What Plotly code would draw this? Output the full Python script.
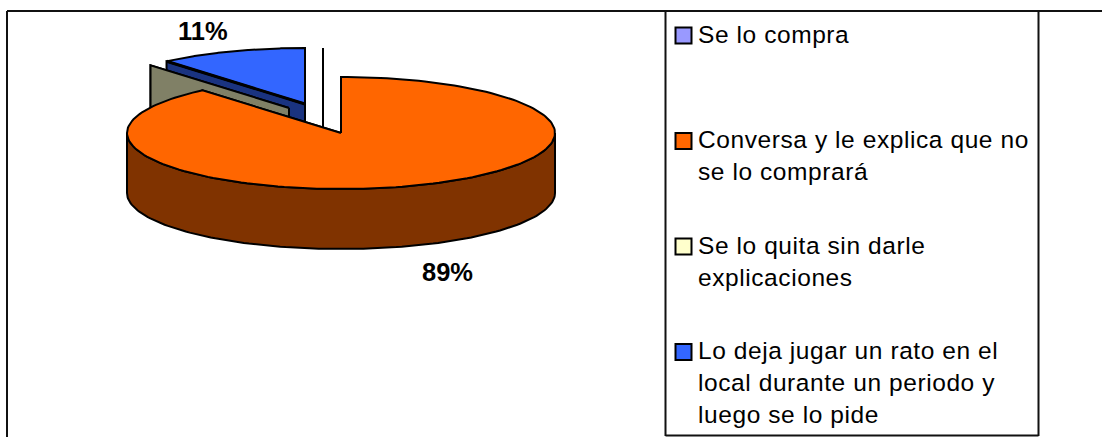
import math
import plotly.graph_objects as go

categories = ["Se lo compra", "Conversa y le explica que no se lo comprará",
              "Se lo quita sin darle explicaciones",
              "Lo deja jugar un rato en el local durante un periodo y luego se lo pide"]
values = [0, 88.8, 0, 11.2]
legend_lines = [["Se lo compra"], ["Conversa y le explica que no", "se lo comprará"],
                ["Se lo quita sin darle", "explicaciones"],
                ["Lo deja jugar un rato en el", "local durante un periodo y", "luego se lo pide"]]
top_colors = ["#9999FF", "#FF6600", "#FFFFCC", "#3366FF"]
side_colors = ["#4D4D80", "#803300", "#808066", "#1A3380"]
explode = [(-18, -29), (0, 0), (-52, -25), (-36, -29)]
draw_order = [3, 0, 2, 1]

CX, CY, RX, RY, DEPTH = 341, 133, 214, 56, 60
FONT = "Liberation Sans"
LW = 2

total = sum(values)
starts, ends, acc = [], [], 0
for v in values:
    starts.append(acc / total * 2 * math.pi)
    acc += v
    ends.append(acc / total * 2 * math.pi)


def rim(t, dx, dy, d=0):
    return CX + dx + RX * math.sin(t), CY + dy - RY * math.cos(t) + d


def poly(pts, color, width=LW):
    xs = [p[0] for p in pts] + [pts[0][0]]
    ys = [p[1] for p in pts] + [pts[0][1]]
    return go.Scatter(x=xs, y=ys, mode="lines", fill="toself", fillcolor=color,
                      line=dict(color="black", width=width), hoverinfo="skip", showlegend=False)


fig = go.Figure()
for i in draw_order:
    a, b = starts[i], ends[i]
    dx, dy = explode[i]
    apex = (CX + dx, CY + dy)
    # cut faces at both radial edges
    for t in (b, a):
        r = rim(t, dx, dy)
        fig.add_trace(poly([apex, r, (r[0], r[1] + DEPTH), (apex[0], apex[1] + DEPTH)], side_colors[i]))
    # outer wall (front half only)
    lo, hi = max(a, math.pi / 2), min(b, 3 * math.pi / 2)
    if hi > lo:
        n = 120
        ts = [lo + (hi - lo) * k / n for k in range(n + 1)]
        fig.add_trace(poly([rim(t, dx, dy) for t in ts] +
                           [rim(t, dx, dy, DEPTH) for t in reversed(ts)], side_colors[i]))
    # top face
    if b > a:
        n = 180
        ts = [a + (b - a) * k / n for k in range(n + 1)]
        fig.add_trace(poly([apex] + [rim(t, dx, dy) for t in ts], top_colors[i]))
    # heavier edge where the exploded wedge's top meets its cut face
    if i == 3:
        r = rim(a, dx, dy)
        fig.add_trace(go.Scatter(x=[apex[0], r[0]], y=[apex[1], r[1]], mode="lines",
                                 line=dict(color="black", width=3), hoverinfo="skip", showlegend=False))

# legend swatches
swatch_y = [35.5, 141, 246.5, 352]
fig.add_trace(go.Scatter(x=[683.5] * 4, y=swatch_y, mode="markers", hoverinfo="skip", showlegend=False,
                         marker=dict(symbol="square", size=16, color=top_colors,
                                     line=dict(color="black", width=2))))

annotations = []
for lines, y in zip(legend_lines, swatch_y):
    annotations.append(dict(x=697, y=y - 16, xref="x", yref="y", xanchor="left", yanchor="top",
                            text="<br>".join(lines), showarrow=False, align="left",
                            borderpad=0, font=dict(family=FONT, size=24.5, color="#000")))
label_pos = {1: (447, 272), 3: (203, 31)}
for i, (x, y) in label_pos.items():
    annotations.append(dict(x=x, y=y, xref="x", yref="y", text=f"{round(values[i] / total * 100)}%",
                            showarrow=False, font=dict(family=FONT, size=25.5, color="#000", weight="bold")))

frame = [(7, 11, 1102, 11), (7, 11, 7, 437), (665.5, 11, 665.5, 436),
         (1038.5, 11, 1038.5, 436), (665.5, 435.5, 1038.5, 435.5)]
shapes = [dict(type="line", x0=a, y0=b, x1=c, y1=d, xref="x", yref="y",
               line=dict(color="#111", width=2), layer="above") for a, b, c, d in frame]

fig.update_layout(width=1102, height=437, margin=dict(l=0, r=0, t=0, b=0),
                  paper_bgcolor="white", plot_bgcolor="white", showlegend=False,
                  xaxis=dict(range=[0, 1102], visible=False, fixedrange=True),
                  yaxis=dict(range=[437, 0], visible=False, fixedrange=True),
                  annotations=annotations, shapes=shapes)
post = """document.body.style.margin='0';document.body.style.overflow='hidden';
document.querySelectorAll('.annotation-text').forEach(function(t){
  if(t.textContent.indexOf('%')<0){t.style.letterSpacing='0.58px';}
});"""
fig.write_html("out.html", config=dict(displayModeBar=False), post_script=post)
